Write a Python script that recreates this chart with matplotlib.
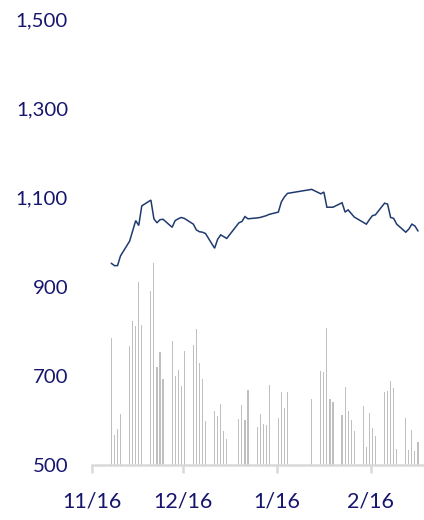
import matplotlib
matplotlib.use("Agg")
import matplotlib.pyplot as plt
import matplotlib.dates as mdates
import matplotlib.ticker as mticker
import pandas as pd

dates = [
    "2022-11-22", "2022-11-23", "2022-11-24", "2022-11-25",
    "2022-11-28", "2022-11-29", "2022-11-30", "2022-12-01", "2022-12-02",
    "2022-12-05", "2022-12-06", "2022-12-07", "2022-12-08", "2022-12-09",
    "2022-12-12", "2022-12-13", "2022-12-14", "2022-12-15", "2022-12-16",
    "2022-12-19", "2022-12-20", "2022-12-21", "2022-12-22", "2022-12-23",
    "2022-12-26", "2022-12-27", "2022-12-28", "2022-12-29", "2022-12-30",
    "2023-01-03", "2023-01-04", "2023-01-05", "2023-01-06",
    "2023-01-09", "2023-01-10", "2023-01-11", "2023-01-12", "2023-01-13",
    "2023-01-16", "2023-01-17", "2023-01-18", "2023-01-19",
    "2023-01-27",
    "2023-01-30", "2023-01-31", "2023-02-01", "2023-02-02", "2023-02-03",
    "2023-02-06", "2023-02-07", "2023-02-08", "2023-02-09", "2023-02-10",
    "2023-02-13", "2023-02-14", "2023-02-15", "2023-02-16", "2023-02-17",
    "2023-02-20", "2023-02-21", "2023-02-22", "2023-02-23", "2023-02-24",
    "2023-02-27", "2023-02-28", "2023-03-01", "2023-03-02", "2023-03-03",
]

index_close = [
    952, 947, 947, 969,
    1002, 1025, 1048, 1037, 1081,
    1094, 1052, 1043, 1050, 1051,
    1033, 1048, 1052, 1055, 1053,
    1040, 1027, 1023, 1022, 1019,
    986, 1006, 1016, 1012, 1008,
    1043, 1046, 1057, 1052,
    1054, 1055, 1057, 1059, 1062,
    1067, 1090, 1101, 1109,
    1118,
    1108, 1112, 1078, 1078, 1078,
    1088, 1067, 1072, 1064, 1056,
    1044, 1040, 1050, 1059, 1061,
    1087, 1085, 1055, 1053, 1040,
    1022, 1029, 1040, 1036, 1025,
]

volume = [
    284, 67, 81, 114,
    267, 323, 312, 410, 315,
    390, 452, 219, 254, 192,
    277, 200, 212, 177, 256,
    269, 304, 229, 192, 99,
    121, 110, 137, 77, 58,
    103, 135, 102, 169,
    85, 114, 93, 90, 179,
    105, 164, 127, 164,
    148,
    211, 209, 308, 147, 141,
    111, 174, 121, 102, 76,
    132, 40, 117, 83, 64,
    163, 166, 188, 172, 36,
    105, 34, 78, 31, 52,
]

y_ticks = [500, 700, 900, 1100, 1300, 1500]
x_ticks = ["2022-11-16", "2022-12-16", "2023-01-16", "2023-02-16"]

x = pd.to_datetime(dates) + pd.Timedelta(hours=12)

W, H = 424, 520
fig = plt.figure(figsize=(W / 100, H / 100), dpi=100)
left = 91.7 / W
bottom = 55 / H
top = 1 - 19 / H
ax2 = fig.add_axes([left, bottom, 1 - left, top - bottom])
ax = fig.add_axes([left, bottom, 1 - left, top - bottom], sharex=ax2)
ax.set_zorder(ax2.get_zorder() + 1)
ax.patch.set_visible(False)

ax2.bar(x, volume, width=0.38, color="#bfbfbf", linewidth=0)
ax2.set_ylim(0, 1000)
ax2.axis("off")

ax.plot(x, index_close, color="#1f3a6e", linewidth=1.1, solid_joinstyle="miter")
ax.set_ylim(500, 1500)
ax.set_xlim(pd.Timestamp("2022-11-16"), pd.Timestamp("2022-11-16") + pd.Timedelta(days=109.5))

ax.set_yticks(y_ticks)
ax.yaxis.set_major_formatter(mticker.FuncFormatter(lambda v, p: f"{int(v):,}"))
ax.set_xticks(pd.to_datetime(x_ticks))
ax.xaxis.set_major_formatter(mticker.FuncFormatter(
    lambda v, p: f"{mdates.num2date(v).month}/{mdates.num2date(v).day}"))

for s in ["left", "right", "top"]:
    ax.spines[s].set_visible(False)
ax.spines["bottom"].set_color("#d9d9d9")
ax.spines["bottom"].set_linewidth(1.8)

txt = "#16166e"
ax.tick_params(axis="y", length=0, pad=17, labelsize=14.7, labelcolor=txt)
ax.tick_params(axis="x", length=6, width=1.8, color="#d9d9d9", pad=13,
               labelsize=15.5, labelcolor=txt)
for lab in ax.get_xticklabels() + ax.get_yticklabels():
    lab.set_fontfamily("Lato")

fig.savefig("out.png", dpi=100)
